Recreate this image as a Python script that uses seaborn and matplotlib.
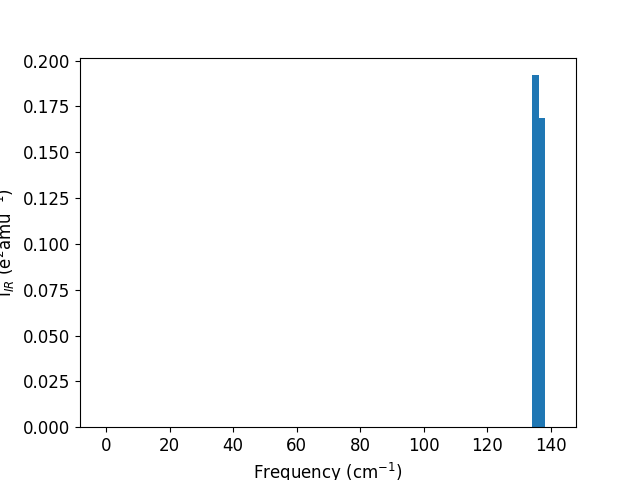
import numpy as np
import matplotlib
matplotlib.use("Agg")
import matplotlib.pyplot as plt
import seaborn as sns

# --- dados ---
frequencias = [135.25, 137.15]      # cm^-1 (centro das barras)
intensidades = [0.1923, 0.1689]     # e^2 amu^-1
largura = 1.9

plt.rcParams["font.size"] = 12

fig, ax = plt.subplots(figsize=(6.4, 4.8), dpi=100)

# histograma ponderado: uma barra por frequência
bordas = [frequencias[0] - largura / 2] + [f + largura / 2 for f in frequencias]
sns.histplot(x=frequencias, weights=intensidades, bins=bordas, ax=ax,
             color="#1f77b4", alpha=1.0, edgecolor="none", linewidth=0)

ax.set_xlim(-8.2, 148.0)
ax.set_ylim(0, 0.2016)
ax.set_xticks(np.arange(0, 141, 20))
ax.set_yticks(np.arange(0, 0.201, 0.025))
ax.set_xlabel("Frequency (cm$^{-1}$)")
ax.set_ylabel("I$_{IR}$ (e$^2$amu$^{-1}$)")

fig.savefig("out.png", dpi=100)
